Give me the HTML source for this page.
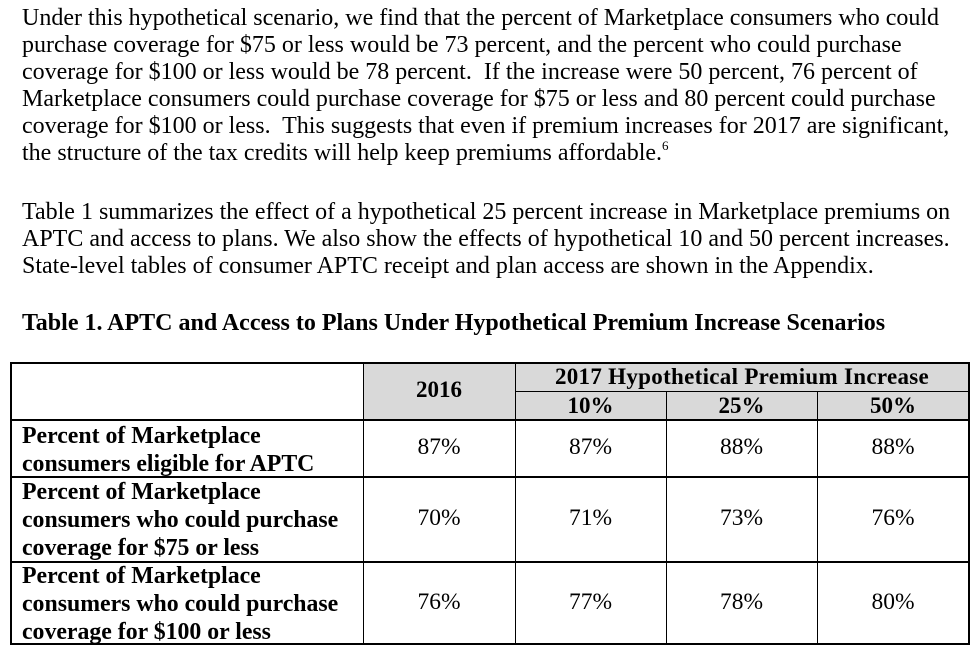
<!DOCTYPE html>
<html><head><meta charset="utf-8"><style>
body{margin:0;width:979px;height:654px;background:#fff;position:relative;overflow:hidden;font-family:"Liberation Serif","Times New Roman",serif;color:#000}
.p{position:absolute;left:22px;font-size:24px;line-height:27px;white-space:nowrap}
.t{position:absolute;font-size:23.8px;white-space:nowrap}
.b{font-weight:bold}
.ln{position:absolute;background:#000}
.c{position:absolute;text-align:center;font-size:23.5px}
sup{line-height:0;font-size:13px;vertical-align:10px}
</style></head><body>
<div class="p" style="top:5px">Under this hypothetical scenario, we find that the percent of Marketplace consumers who could<br>purchase coverage for $75 or less would be 73 percent, and the percent who could purchase<br>coverage for $100 or less would be 78 percent.&nbsp; If the increase were 50 percent, 76 percent of<br>Marketplace consumers could purchase coverage for $75 or less and 80 percent could purchase<br>coverage for $100 or less.&nbsp; This suggests that even if premium increases for 2017 are significant,<br>the structure of the tax credits will help keep premiums affordable.<sup>6</sup></div>
<div class="p" style="top:199px">Table 1 summarizes the effect of a hypothetical 25 percent increase in Marketplace premiums on<br>APTC and access to plans. We also show the effects of hypothetical 10 and 50 percent increases.<br>State-level tables of consumer APTC receipt and plan access are shown in the Appendix.</div>
<div class="p b" style="top:310px;font-size:24px">Table 1. APTC and Access to Plans Under Hypothetical Premium Increase Scenarios</div>
<div style="position:absolute;left:363px;top:363px;width:606px;height:56px;background:#d9d9d9"></div>
<div class="ln" style="left:10px;top:362px;width:960px;height:1.5px"></div>
<div class="ln" style="left:515px;top:391px;width:455px;height:1px"></div>
<div class="ln" style="left:10px;top:419px;width:960px;height:1.5px"></div>
<div class="ln" style="left:10px;top:476px;width:960px;height:1.5px"></div>
<div class="ln" style="left:10px;top:561px;width:960px;height:1.5px"></div>
<div class="ln" style="left:10px;top:643px;width:960px;height:1.5px"></div>
<div class="ln" style="left:10px;top:362px;width:1.5px;height:283px"></div>
<div class="ln" style="left:968px;top:362px;width:1.5px;height:283px"></div>
<div class="ln" style="left:363px;top:362px;width:1px;height:283px"></div>
<div class="ln" style="left:515px;top:362px;width:1px;height:283px"></div>
<div class="ln" style="left:666px;top:391px;width:1px;height:254px"></div>
<div class="ln" style="left:817px;top:391px;width:1px;height:254px"></div>
<div class="c b" style="left:363px;width:152px;top:377px;font-size:23px">2016</div>
<div class="c b" style="left:515px;width:454px;top:364px;font-size:23px;letter-spacing:0.3px">2017 Hypothetical Premium Increase</div>
<div class="c b" style="left:515px;width:151px;top:393px;font-size:23px">10%</div>
<div class="c b" style="left:666px;width:151px;top:393px;font-size:23px">25%</div>
<div class="c b" style="left:817px;width:152px;top:393px;font-size:23px">50%</div>
<div class="t b" style="left:22px;top:422px;line-height:28px">Percent of Marketplace<br>consumers eligible for APTC</div>
<div class="t b" style="left:22px;top:478px;line-height:28px">Percent of Marketplace<br>consumers who could purchase<br>coverage for $75 or less</div>
<div class="t b" style="left:22px;top:562px;line-height:28px">Percent of Marketplace<br>consumers who could purchase<br>coverage for $100 or less</div>
<div class="c" style="left:363px;width:152px;top:434px">87%</div>
<div class="c" style="left:515px;width:151px;top:434px">87%</div>
<div class="c" style="left:666px;width:151px;top:434px">88%</div>
<div class="c" style="left:817px;width:152px;top:434px">88%</div>
<div class="c" style="left:363px;width:152px;top:505px">70%</div>
<div class="c" style="left:515px;width:151px;top:505px">71%</div>
<div class="c" style="left:666px;width:151px;top:505px">73%</div>
<div class="c" style="left:817px;width:152px;top:505px">76%</div>
<div class="c" style="left:363px;width:152px;top:589px">76%</div>
<div class="c" style="left:515px;width:151px;top:589px">77%</div>
<div class="c" style="left:666px;width:151px;top:589px">78%</div>
<div class="c" style="left:817px;width:152px;top:589px">80%</div>
</body></html>
